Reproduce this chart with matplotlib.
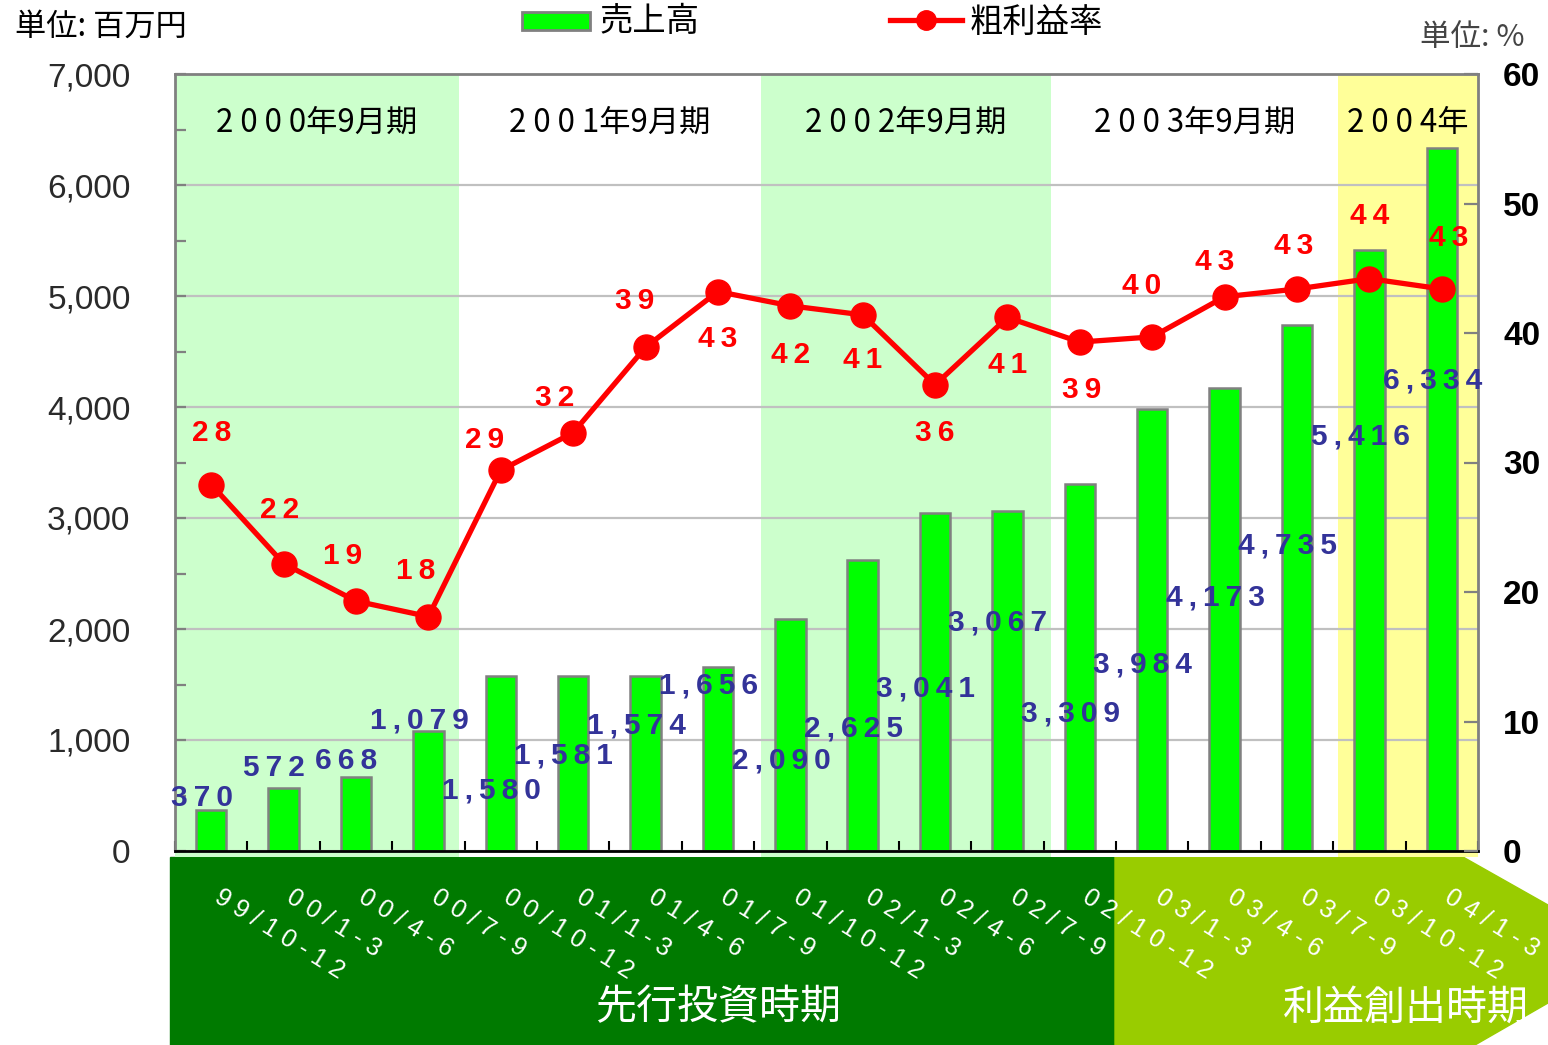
import numpy as np
import matplotlib.pyplot as plt
import matplotlib.transforms as mtransforms
from matplotlib.patches import Polygon, Rectangle
from matplotlib.lines import Line2D

W, H = 1548, 1045
JP = ['Noto Sans CJK JP', 'DejaVu Sans']
NUM = ['Liberation Sans', 'DejaVu Sans']

# data
quarters = ['99/10-12', '00/1-3', '00/4-6', '00/7-9', '00/10-12', '01/1-3',
            '01/4-6', '01/7-9', '01/10-12', '02/1-3', '02/4-6', '02/7-9',
            '02/10-12', '03/1-3', '03/4-6', '03/7-9', '03/10-12', '04/1-3']
sales = [370, 572, 668, 1079, 1580, 1581, 1574, 1656, 2090, 2625,
         3041, 3067, 3309, 3984, 4173, 4735, 5416, 6334]
margin = [28.3, 22.2, 19.3, 18.1, 29.4, 32.3, 38.9, 43.2, 42.1, 41.4,
          36.0, 41.2, 39.3, 39.7, 42.8, 43.4, 44.2, 43.4]
periods = ['2 0 0 0年9月期', '2 0 0 1年9月期', '2 0 0 2年9月期',
           '2 0 0 3年9月期', '2 0 0 4年']
period_edges = [-0.5, 3.42, 7.6, 11.6, 15.56, 17.5]
period_colors = ['#ccffcc', 'white', '#ccffcc', 'white', '#ffff99']

# where the value labels sit (label placement only)
sales_lbl_dx = -0.13
sales_lbl_y = [477, 748, 811, 1180, 541, 856, 1135, 1495, 811, 1108,
               1468, 2063, 1243, 1676, 2288, 2748, 3730, 4243]
margin_lbl_dx = [0, -0.05, -0.18, -0.17, -0.22, -0.26, -0.15, 0, 0, 0,
                 0, 0, 0.03, -0.15, -0.14, -0.05, 0, 0.1]
margin_lbl_y = [32.3, 26.3, 22.8, 21.6, 31.7, 35.0, 42.5, 39.5, 38.3, 37.9,
                32.3, 37.5, 35.6, 43.6, 45.5, 46.7, 49.0, 47.3]


def px(x, y):
    return (x / W, 1 - y / H)


def spaced(s, sep=' '):
    return sep.join(s)


fig = plt.figure(figsize=(W / 100, H / 100), dpi=100)
ax = fig.add_axes([175 / W, (H - 851) / H, (1478 - 175) / W, (851 - 74) / H])
ax2 = ax.twinx()

x = np.arange(len(quarters))
trans = mtransforms.blended_transform_factory(ax.transData, ax.transAxes)

# period bands
for i in range(len(periods)):
    ax.axvspan(period_edges[i], period_edges[i + 1], ymin=-0.008, ymax=1,
               color=period_colors[i], zorder=0, lw=0, clip_on=False)
    ax.text((period_edges[i] + period_edges[i + 1]) / 2, 0.937, periods[i],
            transform=trans, ha='center', va='center', fontsize=22.5,
            family=JP, color='black')

ax.set_xlim(-0.5, 17.5)
ax.set_ylim(0, 7000)
ax.set_yticks(np.arange(0, 7001, 1000))
ax.set_yticks(np.arange(0, 7001, 500), minor=True)
ax.set_yticklabels([f'{v:,}' for v in range(0, 7001, 1000)])
ax.yaxis.grid(True, color='#c0c0c0', lw=1.6, zorder=1)
ax.set_axisbelow(True)
for lab in ax.get_yticklabels():
    lab.set_family(NUM)
    lab.set_fontsize(24)
    lab.set_color('#2a2a2a')
ax.tick_params(axis='y', which='both', direction='in', length=8, width=1.6,
               color='#808080', pad=32)
ax.set_xticks(np.arange(-0.5, 18, 1))
ax.set_xticklabels([])
ax.tick_params(axis='x', direction='in', length=7, width=1.5, color='black')

ax.bar(x, sales, width=0.42, color='#00ff00', edgecolor='#808080', lw=1.8, zorder=2)
for i, v in enumerate(sales):
    ax.text(i + sales_lbl_dx, sales_lbl_y[i], spaced(f'{v:,}', '\u2009'),
            ha='center', va='center', fontsize=21.5, fontweight='bold',
            family=NUM, color='#333399', zorder=5)

for sp in ['left', 'top', 'right']:
    ax.spines[sp].set_color('#808080')
    ax.spines[sp].set_linewidth(2)
ax.spines['bottom'].set_color('black')
ax.spines['bottom'].set_linewidth(2)

ax2.plot(x, margin, color='#ff0000', lw=3.8, marker='o', markersize=18, zorder=4)
for i, v in enumerate(margin):
    ax2.text(i + margin_lbl_dx[i], margin_lbl_y[i], spaced(str(round(v)), '\u2009'),
             ha='center', va='center', fontsize=21.5, fontweight='bold',
             family=NUM, color='#ff0000')
ax2.set_ylim(0, 60)
ax2.set_yticks(np.arange(0, 61, 10))
for lab in ax2.get_yticklabels():
    lab.set_family(NUM)
    lab.set_fontsize(24)
    lab.set_fontweight('bold')
    lab.set_color('black')
ax2.tick_params(axis='y', direction='in', length=10, width=1.6, color='#808080', pad=18)
for sp in ax2.spines.values():
    sp.set_visible(False)

# x category labels on the banner
for i, q in enumerate(quarters):
    ax.text(i + 0.16, -0.043, spaced(q), transform=trans, rotation=-32,
            rotation_mode='anchor', ha='left', va='top', color='white',
            fontsize=18, family=NUM, clip_on=False, zorder=10)

# bottom banner
fig.patches.append(Polygon([px(170, 857), px(1115, 857), px(1115, 1045), px(170, 1045)],
                           closed=True, transform=fig.transFigure, color='#007a00', zorder=-1))
fig.patches.append(Polygon([px(1115, 857), px(1463, 857), px(1548, 905), px(1548, 1003),
                            px(1475, 1045), px(1115, 1045)],
                           closed=True, transform=fig.transFigure, color='#99cc00', zorder=-1))
fig.text(*px(718, 1008), '先行投資時期', ha='center', va='center', fontsize=29.5,
         family=JP, color='white')
fig.text(*px(1406, 1008), '利益創出時期', ha='center', va='center', fontsize=29.5,
         family=JP, color='white')

# legend and units
fig.patches.append(Rectangle(px(522, 30), 68 / W, 18 / H, transform=fig.transFigure,
                             facecolor='#00ff00', edgecolor='#808080', lw=2))
fig.text(*px(600, 22), '売上高', ha='left', va='center', fontsize=24, family=JP)
fig.lines.append(Line2D([890 / W, 962 / W], [1 - 20 / H] * 2, transform=fig.transFigure,
                        color='#ff0000', lw=3.8))
fig.lines.append(Line2D([926 / W], [1 - 20 / H], transform=fig.transFigure,
                        color='#ff0000', marker='o', markersize=14))
fig.text(*px(970, 22), '粗利益率', ha='left', va='center', fontsize=24, family=JP)
fig.text(*px(15, 27), '単位: 百万円', ha='left', va='center', fontsize=22.5, family=JP)
fig.text(*px(1420, 37), '単位: %', ha='left', va='center', fontsize=22, family=JP,
         color='#444444')

fig.savefig('out.png', dpi=100)
